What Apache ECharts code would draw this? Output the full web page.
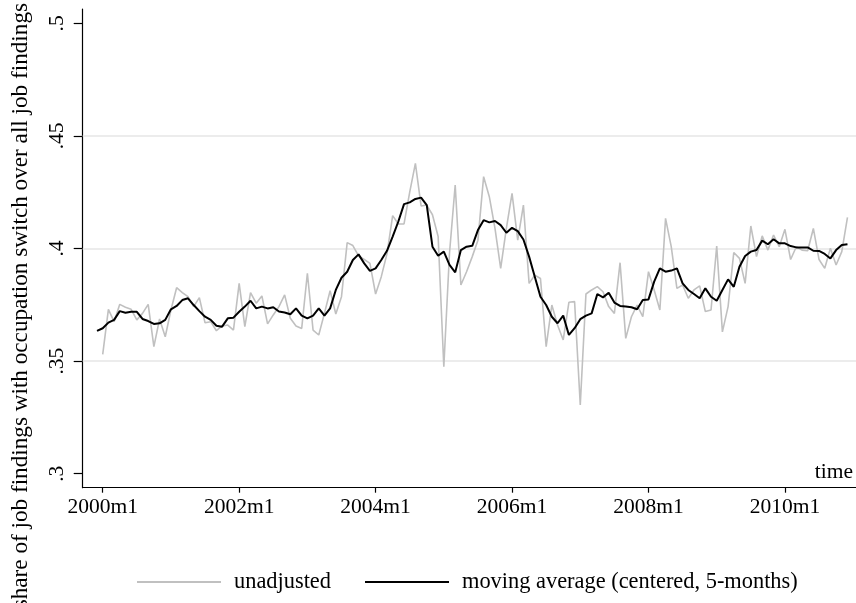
<!DOCTYPE html>
<html><head><meta charset="utf-8">
<script src="https://cdn.jsdelivr.net/npm/echarts@6/dist/echarts.min.js"></script>
<style>html,body{margin:0;padding:0;background:#fff}#c{width:856px;height:603px}</style>
</head><body><div id="c"></div>
<script>
// monthly index: 0 = 2000m1
const unadjustedStart = 0;
const unadjusted = [
.353,.373,.3675,.3752,.3739,.373,.3683,.3712,.3752,.3564,.3687,.3608,
.3727,.3826,.3804,.3786,.3742,.3782,.367,.3675,.3635,.3656,.366,.3638,
.3845,.3653,.3804,.3757,.3789,.3665,.3705,.3742,.3794,.369,.3656,.3645,
.389,.3638,.3616,.3712,.3813,.3709,.3786,.4026,.4013,.3967,.3952,.3934,
.3798,.3875,.3976,.4146,.4109,.4109,.425,.4378,.4189,.4193,.415,.4053,
.3475,.398,.4282,.3838,.3897,.3964,.4037,.4319,.423,.4089,.3912,.4089,
.4245,.4037,.4193,.3845,.3882,.3867,.3564,.3749,.366,.3594,.3761,.3764,
.3305,.3798,.3816,.3831,.3808,.3742,.3712,.3937,.3601,.3697,.3749,.3697,
.3897,.3816,.3727,.4134,.4008,.3823,.3838,.3779,.3816,.3834,.372,.3727,
.4011,.363,.3742,.3982,.3956,.3845,.41,.3964,.4056,.3993,.406,.4008,
.4085,.3951,.4008,.3993,.399,.4089,.3951,.3912,.4001,.3927,.3986,.4138
];
const movingAvgStart = -1; // 1999m12
const movingAvg = [
.3634,
.3646,.3671,.3683,.3722,.3715,.3719,.3719,.3687,.3678,.3665,.3668,.3683,
.373,.3745,.3771,.3779,.3749,.3722,.3697,.3683,.3657,.3653,.369,.3693,
.3719,.3742,.3768,.3734,.3742,.3734,.3739,.372,.3716,.3708,.3734,.3702,
.369,.3702,.3734,.3702,.3734,.3816,.387,.3897,.3949,.3974,.3934,.3901,
.3912,.3949,.399,.4053,.412,.4197,.4205,.422,.4226,.4193,.4008,.3968,
.3986,.3927,.3894,.3993,.4008,.4012,.4082,.4126,.4116,.4122,.4104,.407,
.4092,.4077,.404,.3964,.3875,.3786,.3749,.3697,.3668,.3702,.3616,.3646,
.3686,.3702,.3712,.3798,.3783,.3804,.376,.3745,.3742,.3739,.373,.3771,
.3774,.3853,.3912,.3897,.3902,.3912,.3845,.3816,.3798,.3779,.3823,.3786,
.3768,.3816,.3863,.383,.3919,.3967,.3986,.3993,.4035,.4019,.4041,.4023,
.4023,.4011,.4005,.4004,.4005,.399,.3989,.3976,.3956,.3993,.4016,.4019
];
const seriesNames = ['unadjusted', 'moving average (centered, 5-months)'];
const xTickValues = [0, 24, 48, 72, 96, 120];
const xTickLabels = ['2000m1', '2002m1', '2004m1', '2006m1', '2008m1', '2010m1'];
const yTickValues = [0.3, 0.35, 0.4, 0.45, 0.5];
const yTickLabels = ['.3', '.35', '.4', '.45', '.5'];
const gridValues = [0.35, 0.4, 0.45];
const yTitle = 'share of job findings with occupation switch over all job findings';
const xTitle = 'time';

const FONT = 'Liberation Serif';
const toPairs = (arr, start) => arr.map((v, k) => [start + k, v]);
const labelFor = (vals, labs) => v => {
  const k = vals.findIndex(t => Math.abs(t - v) < 1e-6);
  return k >= 0 ? labs[k] : '';
};

const chart = echarts.init(document.getElementById('c'), null, {renderer: 'canvas'});
chart.setOption({
  animation: false,
  backgroundColor: '#fff',
  grid: {left: 82.7, right: 0, top: 9, bottom: 115.3, containLabel: false},
  xAxis: {
    type: 'value', min: -3.52, max: 132.5,
    axisLine: {show: true, onZero: false, lineStyle: {color: '#000', width: 1.2}},
    axisTick: {show: true, customValues: xTickValues, length: 5, lineStyle: {color: '#000', width: 1.2}},
    axisLabel: {show: true, customValues: xTickValues, formatter: labelFor(xTickValues, xTickLabels),
      fontFamily: FONT, fontSize: 21.5, color: '#000', margin: 9},
    splitLine: {show: false}
  },
  yAxis: {
    type: 'value', min: 0.29378, max: 0.50636,
    axisLine: {show: true, onZero: false, lineStyle: {color: '#000', width: 1.2}},
    axisTick: {show: true, customValues: yTickValues, length: 9, lineStyle: {color: '#000', width: 1.2}},
    axisLabel: {show: true, customValues: yTickValues, formatter: labelFor(yTickValues, yTickLabels),
      rotate: 90, fontFamily: FONT, fontSize: 21.5, color: '#000', margin: 14},
    splitLine: {show: false}
  },
  legend: {
    data: [
      {name: seriesNames[0], icon: 'rect', itemStyle: {color: '#c0c0c0'}},
      {name: seriesNames[1], icon: 'rect', itemStyle: {color: '#000'}}
    ],
    left: 132, top: 566, itemWidth: 84, itemHeight: 2, itemGap: 34,
    textStyle: {fontFamily: FONT, fontSize: 22.4, color: '#000', padding: [0, 0, 0, 8]}
  },
  graphic: [
    {type: 'text', x: 853, y: 472.5, style: {text: xTitle, fontFamily: FONT, fontSize: 21.5, fill: '#000', align: 'right', verticalAlign: 'middle'}},
    {type: 'text', x: 21, y: 3, rotation: Math.PI / 2, style: {text: yTitle, fontFamily: FONT, fontSize: 23.2, fill: '#000', align: 'right', verticalAlign: 'middle'}}
  ],
  series: [
    {
      name: seriesNames[0], type: 'line', data: toPairs(unadjusted, unadjustedStart), z: 2,
      symbol: 'none', lineStyle: {color: '#c0c0c0', width: 1.6}, itemStyle: {color: '#c0c0c0'},
      markLine: {silent: true, symbol: 'none', z: 1, label: {show: false},
        lineStyle: {color: '#e6e6e6', width: 1.5, type: 'solid'},
        data: gridValues.map(v => ({yAxis: v}))}
    },
    {
      name: seriesNames[1], type: 'line', data: toPairs(movingAvg, movingAvgStart), z: 3,
      symbol: 'none', lineStyle: {color: '#000', width: 2}, itemStyle: {color: '#000'}
    }
  ]
});
</script>
</body></html>
